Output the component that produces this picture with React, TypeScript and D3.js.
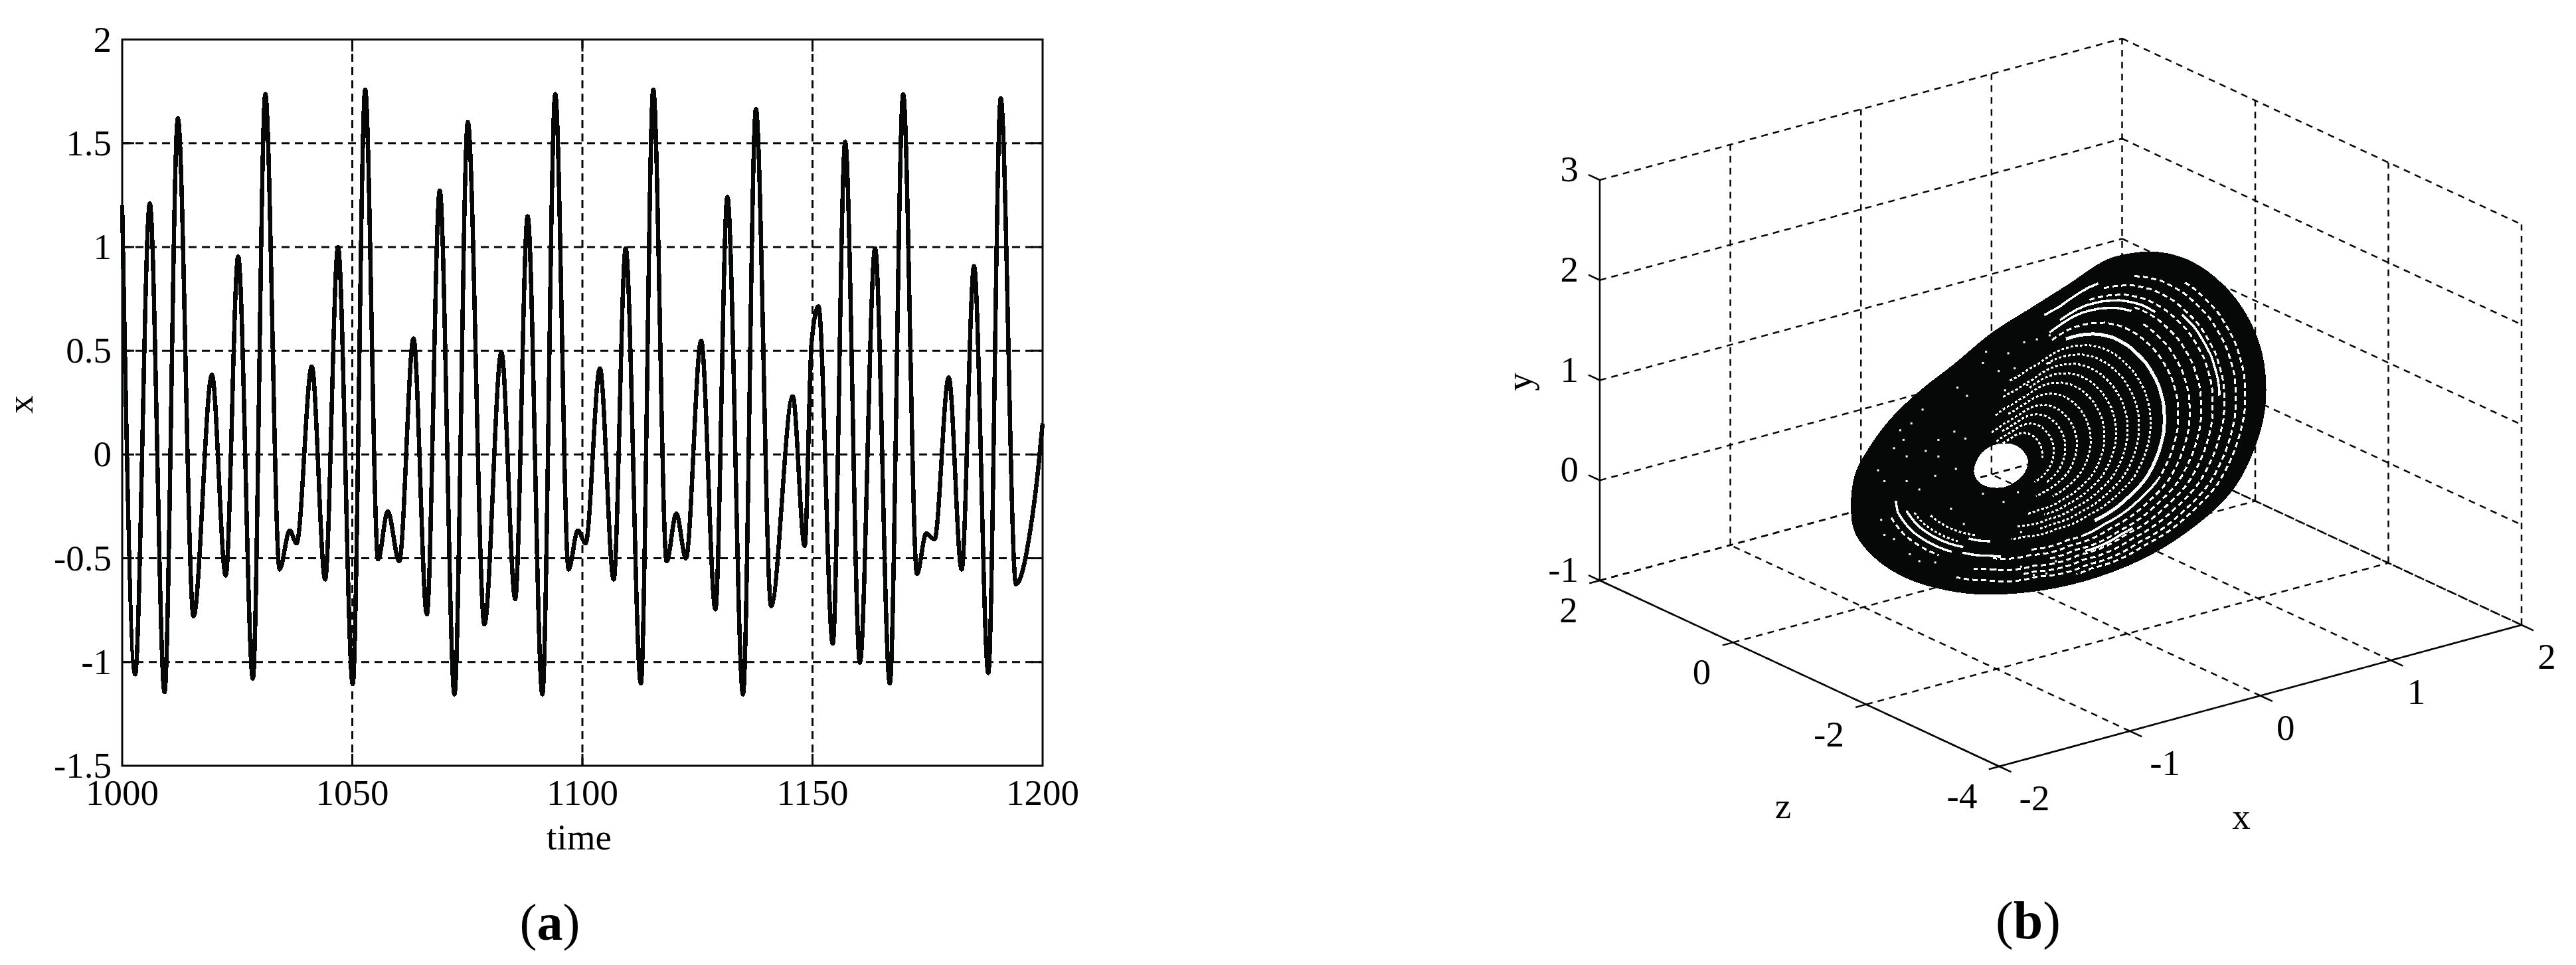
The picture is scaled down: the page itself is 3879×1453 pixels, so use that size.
import React from 'react';
import * as d3 from 'd3';

// panel (a): turning points of x(t)
const timeValues = [
  1000, 1002.8, 1006, 1009.2, 1012.1, 1015.5, 1019.5, 1022.5, 1025.2, 1028.4, 1031.1, 1034.2, 1036.4, 1037.9,
  1041.2, 1044.1, 1046.9, 1050.1, 1052.8, 1055.6, 1057.7, 1060.2, 1063.3, 1066.2, 1069, 1072.2, 1075.1, 1078.7,
  1082.4, 1085.4, 1088.1, 1091.3, 1094.1, 1097, 1099, 1100.7, 1103.8, 1106.8, 1109.4, 1112.7, 1115.4, 1118.3,
  1120.4, 1122.5, 1125.8, 1128.9, 1131.5, 1134.9, 1137.7, 1141, 1145.7, 1148.3, 1149.8, 1151.3, 1154.4, 1157.1,
  1160.3, 1163.6, 1166.8, 1169.7, 1172.7, 1174.7, 1176.5, 1179.6, 1182.4, 1185.1, 1188.2, 1190.9, 1194.2, 1197.5,
  1199, 1200,
];
const xValues = [
  1.2, -1.06, 1.21, -1.145, 1.62, -0.78, 0.384, -0.583, 0.954, -1.08, 1.737, -0.554, -0.366, -0.428,
  0.424, -0.602, 1.0, -1.107, 1.759, -0.505, -0.274, -0.515, 0.559, -0.77, 1.272, -1.156, 1.602, -0.819,
  0.494, -0.697, 1.148, -1.156, 1.737, -0.554, -0.366, -0.428, 0.415, -0.602, 0.994, -1.104, 1.759, -0.515,
  -0.285, -0.5, 0.549, -0.746, 1.241, -1.156, 1.665, -0.73, 0.28, -0.441, 0.54, 0.714, -0.912, 1.507,
  -1.003, 0.994, -1.104, 1.737, -0.575, -0.381, -0.409, 0.372, -0.554, 0.908, -1.053, 1.716, -0.625, -0.339,
  -0.078, 0.15,
];
const timeTicks = [1000, 1050, 1100, 1150, 1200];
const timeGrid = [1050, 1100, 1150];
const valueTicks = [-1.5, -1, -0.5, 0, 0.5, 1, 1.5, 2];
const valueGrid = [-1, -0.5, 0, 0.5, 1, 1.5];

// panel (b): axes of the 3d box
const boxXTicks = [-2, -1, 0, 1, 2];
const boxYTicks = [-1, 0, 1, 2, 3];
const boxZTicks = [2, 0, -2, -4];

// panel (b): the attractor read as a sheet in the plane z = -1
const attractorZ = -1;
const outlineX = [
  -1.606, -1.576, -1.479, -1.309, -1.066, -0.822, -0.53, -0.214, 0.053, 0.345, 0.54, 0.734, 0.929, 1.124, 1.342,
  1.489, 1.561, 1.566, 1.489, 1.342, 1.124, 0.734, 0.297, -0.141, -0.579, -0.871, -1.187, -1.43, -1.576,
];
const outlineY = [
  0.516, 0.835, 1.048, 1.291, 1.508, 1.669, 1.882, 2.032, 2.157, 2.301, 2.301, 2.247, 2.123, 1.916, 1.564,
  1.181, 0.826, 0.384, 0.026, -0.307, -0.532, -0.752, -0.845, -0.828, -0.714, -0.57, -0.334, -0.042, 0.257,
];
const holeX = [-0.664, -0.604, -0.482, -0.336, -0.251, -0.287, -0.433, -0.604];
const holeY = [0.54, 0.711, 0.756, 0.685, 0.518, 0.38, 0.307, 0.395];
const holeCentre = [-0.458, 0.522];

// gaps between the orbits: [share of the way from hole to rim, from angle, to angle]
const solidGaps = [
  [0.56, 63, -30],
  [0.74, 68, 45],
  [0.7, 70, 50],
  [0.86, 74, 62],
  [0.66, 198, 240],
  [0.6, 205, 245],
  [0.52, 246, 262],
  [0.65, 246, 270],
  [0.62, -5, -40],
  [0.75, -25, -45],
  [0.8, 40, 18],
];
const dottedGaps = [
  [0.03, 95, 10], [0.08, 100, -25], [0.13, 88, -20], [0.18, 105, -40], [0.24, 82, -30], [0.3, 96, -62],
  [0.35, 70, -48], [0.4, 88, -75], [0.45, 66, -58], [0.5, 84, -82], [0.62, 68, -70], [0.67, 45, -95],
  [0.72, 50, -62], [0.77, 62, -105], [0.82, 60, -78], [0.87, 55, -112], [0.91, 45, -55],
  [0.72, 205, 235], [0.56, 208, 240], [0.48, 215, 250],
];
const speckX = [
  -0.579, -0.409, -0.287, -0.092, -0.19, -0.36, -0.092, -0.603, -0.798, -0.725, -0.482, -0.433, -0.263, -1.065, -1.151,
  -1.236, -1.211, -0.944, -0.822, -0.737, -1.284, -1.041, -1.187, -0.944, -0.81, -1.406, -1.357, -1.187, -1.09, -0.968,
  -0.603, -0.445, -0.335, -1.382, -1.357, -1.284, -1.163, -1.09, -0.968, -0.749, -0.847, -0.311, -0.044, -0.214, -0.117,
  -0.506, -0.311,
];
const speckY = [
  1.721, 1.646, 1.713, 1.713, 1.707, 1.478, 1.438, 1.618, 1.44, 1.332, 1.494, 1.284, 1.279, 1.315, 1.207,
  1.169, 1.064, 0.969, 1.009, 0.91, 1.007, 0.894, 0.891, 0.804, 0.633, 0.829, 0.703, 0.643, 0.526, 0.62,
  0.312, 0.174, 0.232, 0.326, 0.166, 0.099, -0.095, -0.19, -0.246, 0.061, 0.247, -0.176, -0.56, -0.637, -0.658,
  -0.478, -0.52,
];

const INK = '#060807';
const SERIF = '"Liberation Serif", serif';
const FONT = 55;

// panel (a) scales
const timeScale = d3.scaleLinear().domain([1000, 1200]).range([184, 1570]);
const valueScale = d3.scaleLinear().domain([-1.5, 2]).range([1153, 59.5]);
const xLine = d3
  .line<number>()
  .x((t) => timeScale(t))
  .y((_, i) => valueScale(xValues[i]))
  .curve(d3.curveMonotoneX);

// panel (b) projection
const front = [3010.5, 1154];
const leftCorner = [2409, 874];
const rightCorner = [3797, 941];
const boxHeight = 603;
const fx = d3.scaleLinear().domain([-2, 2]).range([0, 1]);
const fy = d3.scaleLinear().domain([-1, 3]).range([0, 1]);
const fz = d3.scaleLinear().domain([-4, 2]).range([0, 1]);
function project(x: number, y: number, z: number): [number, number] {
  return [
    front[0] + fx(x) * (rightCorner[0] - front[0]) + fz(z) * (leftCorner[0] - front[0]),
    front[1] + fx(x) * (rightCorner[1] - front[1]) + fz(z) * (leftCorner[1] - front[1]) - fy(y) * boxHeight,
  ];
}

const rimPoints = outlineX.map((x, i) => project(x, outlineY[i], attractorZ));
const holePoints = holeX.map((x, i) => project(x, holeY[i], attractorZ));
const closed = d3.line().curve(d3.curveCatmullRomClosed);
const attractorPath = closed(rimPoints) + ' ' + closed(holePoints);

const centre = project(holeCentre[0], holeCentre[1], attractorZ);
const wrap = (a: number) => ((((a + 180) % 360) + 360) % 360) - 180;
const rimPolar = rimPoints
  .map((p) => ({
    a: wrap((Math.atan2(centre[1] - p[1], p[0] - centre[0]) * 180) / Math.PI),
    r: Math.hypot(p[0] - centre[0], p[1] - centre[1]),
  }))
  .sort((p, q) => p.a - q.a);
const first = rimPolar[0];
const last = rimPolar[rimPolar.length - 1];
const rimRadius = d3
  .scaleLinear()
  .domain([last.a - 360, ...rimPolar.map((p) => p.a), first.a + 360])
  .range([last.r, ...rimPolar.map((p) => p.r), first.r]);

const gapLine = d3.line();
function gapPath(gap: number[]) {
  const [share, from, to] = gap;
  const steps = Math.ceil(Math.abs(to - from) / 2);
  const pts = d3.range(steps + 1).map((i): [number, number] => {
    const deg = from + ((to - from) * i) / steps;
    const r = (0.13 + 0.87 * share) * rimRadius(wrap(deg));
    const rad = (deg * Math.PI) / 180;
    return [centre[0] + r * Math.cos(rad), centre[1] - r * Math.sin(rad)];
  });
  return gapLine(pts) as string;
}

function Seg({ a, b, dash, w = 2.5 }: { a: [number, number]; b: [number, number]; dash?: boolean; w?: number }) {
  return (
    <line
      x1={a[0]}
      y1={a[1]}
      x2={b[0]}
      y2={b[1]}
      stroke={INK}
      strokeWidth={w}
      strokeDasharray={dash ? '10 8' : undefined}
    />
  );
}

function TimeSeries() {
  const [x0, x1] = timeScale.range();
  const [y0, y1] = valueScale.range();
  return (
    <g fontFamily={SERIF} fontSize={FONT} fill="#000">
      {timeGrid.map((t) => (
        <g key={t} stroke={INK} strokeWidth={3}>
          <line x1={timeScale(t)} x2={timeScale(t)} y1={y0} y2={y1} strokeDasharray="12 8" />
          <line x1={timeScale(t)} x2={timeScale(t)} y1={y0} y2={y0 - 18} />
          <line x1={timeScale(t)} x2={timeScale(t)} y1={y1} y2={y1 + 18} />
        </g>
      ))}
      {valueGrid.map((v) => (
        <g key={v} stroke={INK} strokeWidth={3}>
          <line x1={x0} x2={x1} y1={valueScale(v)} y2={valueScale(v)} strokeDasharray="12 8" />
          <line x1={x0} x2={x0 + 18} y1={valueScale(v)} y2={valueScale(v)} />
          <line x1={x1} x2={x1 - 18} y1={valueScale(v)} y2={valueScale(v)} />
        </g>
      ))}
      <path
        d={xLine(timeValues) as string}
        fill="none"
        stroke={INK}
        strokeWidth={6.5}
        strokeLinejoin="round"
        shapeRendering="crispEdges"
      />
      <rect x={x0} y={y1} width={x1 - x0} height={y0 - y1} fill="none" stroke={INK} strokeWidth={3} />
      {timeTicks.map((t) => (
        <text key={t} x={timeScale(t)} y={1212} textAnchor="middle">
          {t}
        </text>
      ))}
      {valueTicks.map((v) => (
        <text key={v} x={168} y={valueScale(v) + 18} textAnchor="end">
          {v}
        </text>
      ))}
      <text x={872} y={1279} textAnchor="middle">
        time
      </text>
      <text transform="translate(49,609) rotate(-90)" textAnchor="middle">
        x
      </text>
      <text x={828} y={1415} textAnchor="middle" fontSize={78}>
        (<tspan fontWeight="bold">a</tspan>)
      </text>
    </g>
  );
}

function Attractor3D() {
  const yTop = 3;
  const yLow = -1;
  return (
    <g fontFamily={SERIF} fontSize={FONT} fill="#000">
      {/* back walls and floor */}
      {boxYTicks.map((y) => (
        <g key={y}>
          <Seg a={project(-2, y, 2)} b={project(2, y, 2)} dash />
          <Seg a={project(2, y, 2)} b={project(2, y, -4)} dash />
        </g>
      ))}
      {boxXTicks.map((x) => (
        <Seg key={x} a={project(x, yLow, -4)} b={project(x, yLow, 2)} dash />
      ))}
      {boxZTicks.map((z) => (
        <Seg key={z} a={project(-2, yLow, z)} b={project(2, yLow, z)} dash />
      ))}
      {boxXTicks.slice(1).map((x) => (
        <Seg key={x} a={project(x, yLow, 2)} b={project(x, yTop, 2)} dash />
      ))}
      {boxZTicks.slice(1).map((z) => (
        <Seg key={z} a={project(2, yLow, z)} b={project(2, yTop, z)} dash />
      ))}

      <path d={attractorPath} fill={INK} fillRule="evenodd" shapeRendering="crispEdges" />
      <g fill="none" stroke="#fff" shapeRendering="crispEdges">
        {dottedGaps.map((g, i) => (
          <path key={i} d={gapPath(g)} strokeWidth={3} strokeDasharray={g[0] > 0.6 ? '8 5' : '4 3'} />
        ))}
        {solidGaps.map((g, i) => (
          <path key={i} d={gapPath(g)} strokeWidth={g[0] === 0.56 ? 5 : 3.5} />
        ))}
      </g>
      {speckX.map((x, i) => {
        const [px, py] = project(x, speckY[i], attractorZ);
        return <rect key={i} x={px} y={py} width={3} height={3} fill="#fff" />;
      })}

      {/* solid axes and ticks */}
      <Seg a={project(-2, yLow, 2)} b={project(-2, yTop, 2)} />
      <Seg a={project(-2, yLow, 2)} b={project(-2, yLow, -4)} />
      <Seg a={project(-2, yLow, -4)} b={project(2, yLow, -4)} />
      {boxYTicks.map((y) => (
        <Seg key={y} a={project(-2, y, 2)} b={project(-2, y, 2.17)} />
      ))}
      {boxZTicks.map((z) => (
        <Seg key={z} a={project(-2, yLow, z)} b={project(-2.08, yLow, z)} />
      ))}
      {boxXTicks.map((x) => (
        <Seg key={x} a={project(x, yLow, -4)} b={project(x, yLow, -4.18)} />
      ))}

      {boxYTicks.map((y) => (
        <text key={y} x={2377} y={project(-2, y, 2)[1] + 2} textAnchor="end">
          {y}
        </text>
      ))}
      {boxZTicks.map((z) => {
        const [px, py] = project(-2, yLow, z);
        return (
          <text key={z} x={px - (z < 0 ? 56 : 47)} y={py + 63} textAnchor="middle">
            {z}
          </text>
        );
      })}
      {boxXTicks.map((x) => {
        const [px, py] = project(x, yLow, -4);
        return (
          <text key={x} x={px + (x < 0 ? 53 : 38)} y={py + 66} textAnchor="middle">
            {x}
          </text>
        );
      })}
      <text transform="translate(2306,575) rotate(-90)" textAnchor="middle">
        y
      </text>
      <text x={2685} y={1232} textAnchor="middle">
        z
      </text>
      <text x={3375} y={1248} textAnchor="middle">
        x
      </text>
      <text x={3054} y={1413} textAnchor="middle" fontSize={80}>
        (<tspan fontWeight="bold">b</tspan>)
      </text>
    </g>
  );
}

export default function App() {
  return (
    <svg
      width={3879}
      height={1453}
      viewBox="0 0 3879 1453"
      style={{ position: 'fixed', left: 0, top: 0, background: '#fff' }}
    >
      <TimeSeries />
      <Attractor3D />
    </svg>
  );
}
